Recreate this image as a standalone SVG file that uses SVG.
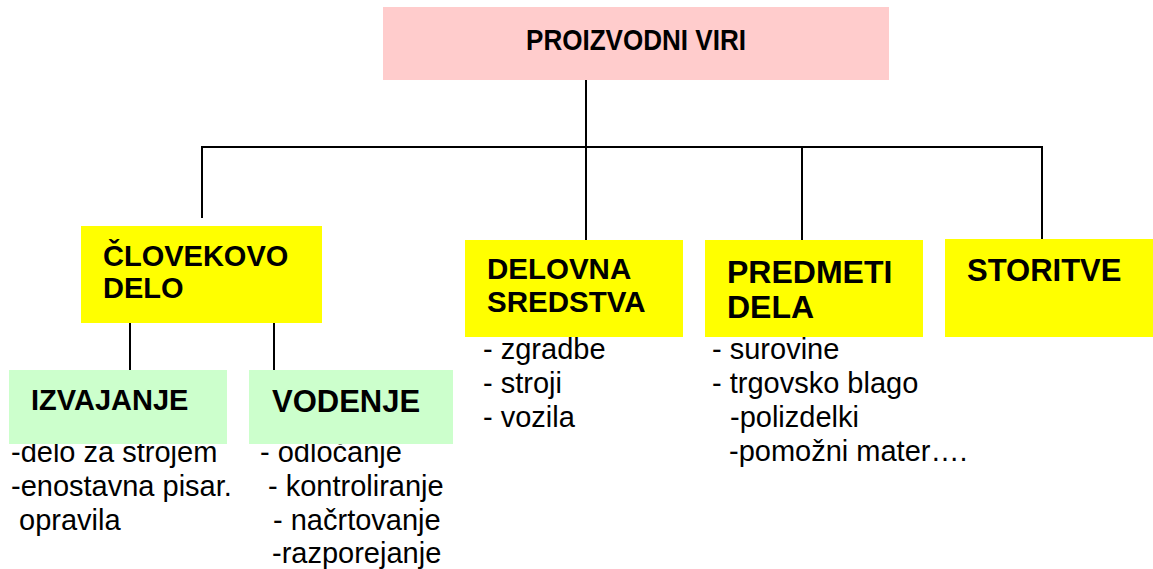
<svg xmlns="http://www.w3.org/2000/svg" width="1153" height="569" viewBox="0 0 1153 569">
<style>
.t{font-family:"Liberation Sans",Arial,sans-serif;font-weight:bold;fill:#000}
.b{font-family:"Liberation Sans",Arial,sans-serif;font-size:29px;fill:#000}
.c{stroke:#000;stroke-width:2;fill:none}
.y{fill:#FFFF00}
.g{fill:#CCFFCC}
</style>
<rect width="1153" height="569" fill="#fff"/>
<g id="connectors" class="c">
<line x1="586" y1="79" x2="586" y2="240"/>
<polyline points="202,218 202,147 1042,147 1042,239"/>
<line x1="802" y1="147" x2="802" y2="240"/>
<line x1="130" y1="323" x2="130" y2="370"/>
<line x1="274" y1="323" x2="274" y2="370"/>
</g>
<g id="list-izvajanje" class="b">
<text x="11" y="462">-delo za strojem</text>
<text x="11" y="496">-enostavna pisar.</text>
<text x="19" y="530">opravila</text>
</g>
<g id="list-vodenje" class="b">
<text x="260" y="462">- odločanje</text>
<text x="268" y="496">- kontroliranje</text>
<text x="273" y="530">- načrtovanje</text>
<text x="272" y="563">-razporejanje</text>
</g>
<g id="list-sredstva" class="b">
<text x="483" y="359">- zgradbe</text>
<text x="483" y="393">- stroji</text>
<text x="483" y="427">- vozila</text>
</g>
<g id="list-predmeti" class="b">
<text x="712" y="359">- surovine</text>
<text x="712" y="393">- trgovsko blago</text>
<text x="730" y="427">-polizdelki</text>
<text x="729" y="461">-pomožni mater….</text>
</g>
<g id="proizvodni-viri">
<rect x="383" y="7" width="506" height="73" fill="#FFCCCC"/>
<text class="t" x="526" y="50" font-size="30" textLength="220" lengthAdjust="spacingAndGlyphs">PROIZVODNI VIRI</text>
</g>
<g id="clovekovo-delo">
<rect class="y" x="81" y="226" width="241" height="97"/>
<text class="t" x="103" y="266" font-size="29">ČLOVEKOVO</text>
<text class="t" x="103" y="298" font-size="29">DELO</text>
</g>
<g id="delovna-sredstva">
<rect class="y" x="465" y="240" width="218" height="97"/>
<text class="t" x="487" y="279" font-size="29.5">DELOVNA</text>
<text class="t" x="487" y="312" font-size="29.5">SREDSTVA</text>
</g>
<g id="predmeti-dela">
<rect class="y" x="705" y="240" width="218" height="97"/>
<text class="t" x="727" y="283" font-size="32">PREDMETI</text>
<text class="t" x="727" y="318" font-size="32">DELA</text>
</g>
<g id="storitve">
<rect class="y" x="945" y="239" width="208" height="98"/>
<text class="t" x="967" y="281" font-size="31">STORITVE</text>
</g>
<g id="izvajanje">
<rect class="g" x="9" y="370" width="218" height="74"/>
<text class="t" x="31" y="410" font-size="29">IZVAJANJE</text>
</g>
<g id="vodenje">
<rect class="g" x="249" y="370" width="204" height="74"/>
<text class="t" x="272" y="412" font-size="31">VODENJE</text>
</g>
</svg>
